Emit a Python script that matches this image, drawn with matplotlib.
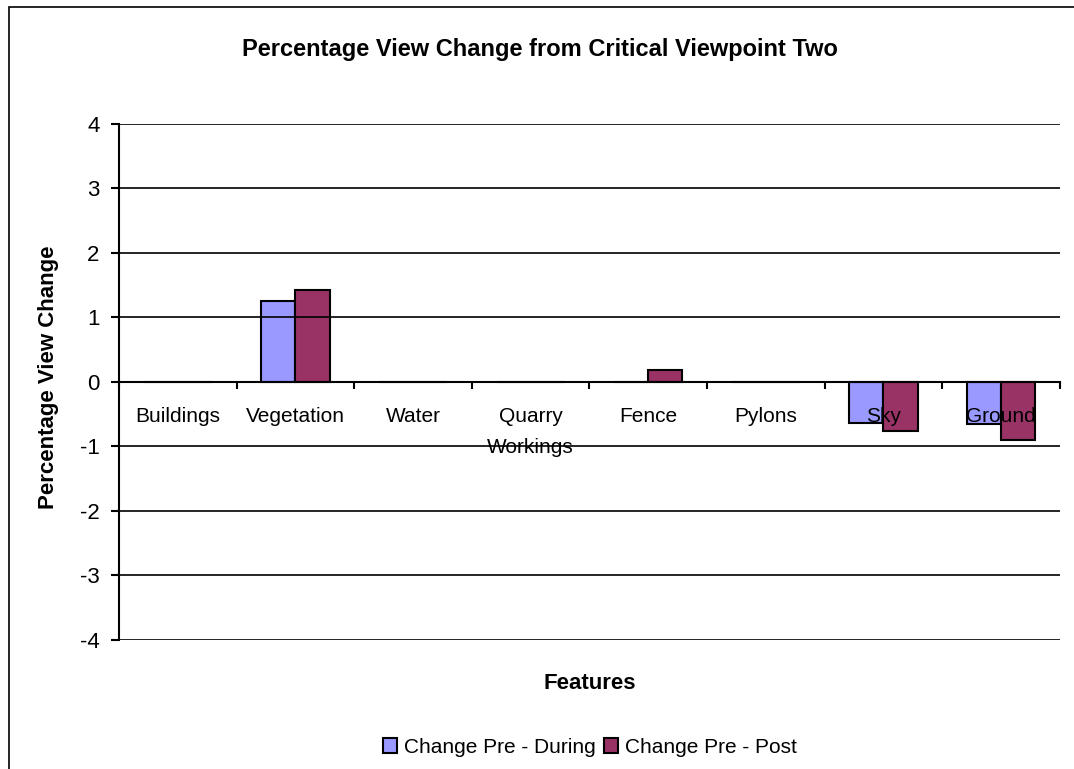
import matplotlib
matplotlib.use('Agg')
import matplotlib.pyplot as plt
import numpy as np
from matplotlib.patches import Rectangle

plt.rcParams['font.family'] = ['Liberation Sans', 'DejaVu Sans']
plt.rcParams['axes.unicode_minus'] = False

#Chart data
features = ['Buildings', 'Vegetation', 'Water', 'Quarry\nWorkings',
            'Fence', 'Pylons', 'Sky', 'Ground']
pre_during = [0.0, 1.25, 0.0, 0.0, 0.0, 0.0, -0.63, -0.65]
pre_post = [0.0, 1.43, 0.0, 0.0, 0.19, 0.0, -0.76, -0.90]
series_names = ['Change Pre - During', 'Change Pre - Post']
yticks = [-4, -3, -2, -1, 0, 1, 2, 3, 4]

fig = plt.figure(figsize=(10.74, 7.69), dpi=100)
ax = fig.add_axes([0.1108, 0.1678, 0.876, 0.671])

#outer chart border like the excel chart area
fig.patches.append(Rectangle((9/1074, -0.2), 1.2, 1.2 - 7/769,
                             transform=fig.transFigure, fill=False,
                             edgecolor='black', linewidth=1.2))

x = np.arange(len(features))
w = 0.29
ax.bar(x - w/2, pre_during, w, color='#9999FF', edgecolor='black',
       linewidth=1.5, label=series_names[0], zorder=1)
ax.bar(x + w/2, pre_post, w, color='#993366', edgecolor='black',
       linewidth=1.5, label=series_names[1], zorder=1)

ax.set_xlim(-0.5, len(features) - 0.5)
ax.set_ylim(-4, 4)
ax.set_yticks(yticks)
ax.yaxis.grid(True, color='black', linewidth=1.2)

for s in ['top', 'right']:
    ax.spines[s].set_visible(False)
ax.spines['bottom'].set_position(('data', 0))
ax.spines['bottom'].set_linewidth(1.5)
ax.spines['left'].set_linewidth(1.5)

#labels sit on top of the bars like in excel
ax.xaxis.set_zorder(3)
ax.set_xticks(x)
ax.set_xticklabels(features, fontsize=15, linespacing=1.8)
ax.set_xticks(np.arange(len(features) + 1) - 0.5, minor=True)
ax.tick_params(axis='x', which='major', length=0, pad=18)
ax.tick_params(axis='x', which='minor', length=5, width=1.5, direction='out')
ax.tick_params(axis='y', length=6, width=1.5, labelsize=16, pad=8)

fig.text(0.503, 0.936, 'Percentage View Change from Critical Viewpoint Two',
         fontsize=17, fontweight='bold', ha='center', va='center')
fig.text(0.045, 0.510, 'Percentage View Change', fontsize=16,
         fontweight='bold', rotation=90, ha='center', va='center')
fig.text(0.549, 0.111, 'Features', fontsize=16, fontweight='bold',
         ha='center', va='center')

fig.legend(loc='center', bbox_to_anchor=(0.549, 0.028), ncol=2,
           frameon=False, fontsize=15, handlelength=0.7, handleheight=0.7,
           handletextpad=0.3, columnspacing=0.4)

fig.savefig('out.png', dpi=100)
